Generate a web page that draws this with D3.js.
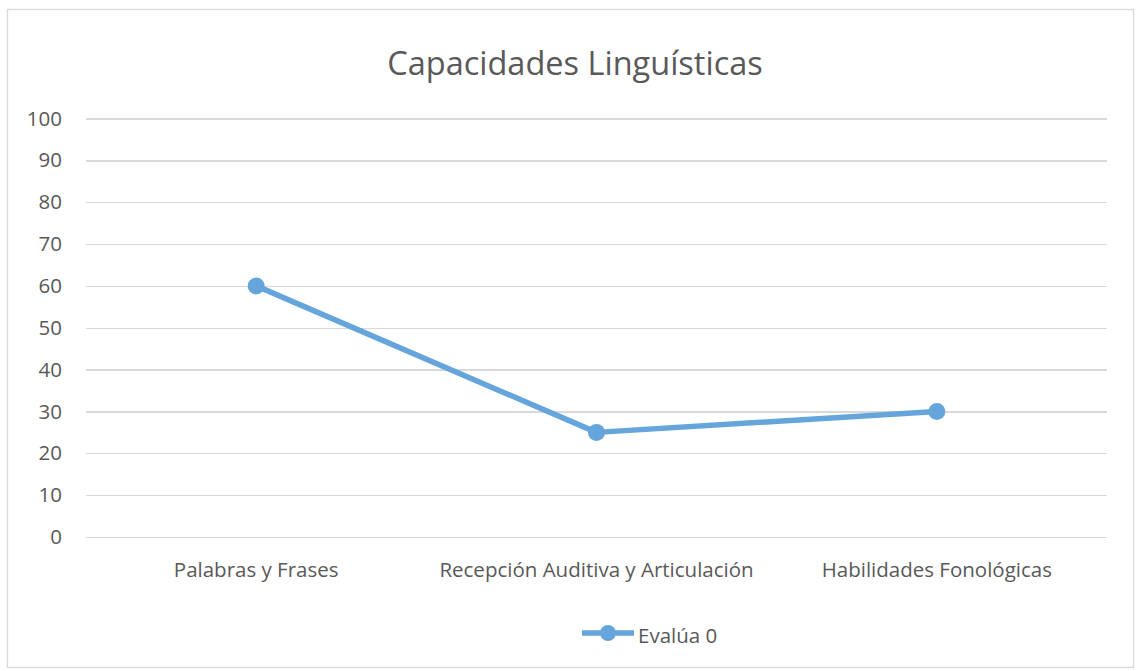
<!doctype html>
<html lang="es">
<head>
<meta charset="utf-8">
<title>Capacidades Linguísticas</title>
<style>
  body { margin: 0; background: #fff; }
  #chart text { font-family: "Open Sans", Lato, sans-serif; fill: #595959; }
  .grid line { stroke: #d9d9d9; stroke-width: 1.3; shape-rendering: crispEdges; }
  .grid path { display: none; }
  .y-axis path, .y-axis line, .x-axis path, .x-axis line { display: none; }
</style>
</head>
<body>
<div id="chart"></div>
<script src="https://d3js.org/d3.v7.min.js"></script>
<script>
  var categories = ['Palabras y Frases', 'Recepción Auditiva y Articulación', 'Habilidades Fonológicas'];
  var values = [60, 25, 30];
  var seriesName = 'Evalúa 0';
  var yTicks = [0, 10, 20, 30, 40, 50, 60, 70, 80, 90, 100];

  var chartWidth = 1142, chartHeight = 671;
  var padLeft = 86, padRight = 1107, padTop = 118.5, padBottom = 537;
  var lineColor = '#65a5dc';

  var svg = d3.select('#chart').append('svg')
    .attr('width', chartWidth)
    .attr('height', chartHeight);

  svg.append('rect')
    .attr('x', 7.5).attr('y', 9.5)
    .attr('width', 1126).attr('height', 658)
    .attr('fill', '#fff')
    .attr('stroke', '#d9d9d9')
    .attr('stroke-width', 1.3);

  var xscale = d3.scaleBand().domain(categories).range([padLeft, padRight]);
  var yscale = d3.scaleLinear().domain([0, 100]).range([padBottom, padTop]);

  // gridlines
  svg.append('g')
    .attr('class', 'grid')
    .attr('transform', 'translate(' + padLeft + ',0)')
    .call(d3.axisLeft(yscale).tickValues(yTicks).tickSize(-(padRight - padLeft)).tickFormat(''));

  // y axis labels
  svg.append('g')
    .attr('class', 'y-axis')
    .attr('transform', 'translate(' + padLeft + ',0)')
    .call(d3.axisLeft(yscale).tickValues(yTicks).tickSize(0).tickPadding(24))
    .selectAll('text')
    .style('font-size', '20.5px');

  // x axis labels
  svg.append('g')
    .attr('class', 'x-axis')
    .attr('transform', 'translate(0,' + padBottom + ')')
    .call(d3.axisBottom(xscale).tickSize(0).tickPadding(25))
    .selectAll('text')
    .style('font-size', '20.5px');

  svg.append('text')
    .attr('x', 575).attr('y', 75)
    .attr('text-anchor', 'middle')
    .style('font-size', '32.5px')
    .text('Capacidades Linguísticas');

  var line = d3.line()
    .x(function(d, i){ return xscale(categories[i]) + xscale.bandwidth() / 2; })
    .y(function(d){ return yscale(d); });

  svg.append('path')
    .datum(values)
    .attr('d', line)
    .attr('fill', 'none')
    .attr('stroke', lineColor)
    .attr('stroke-width', 5.5)
    .attr('stroke-linejoin', 'round');

  svg.selectAll('circle.pt')
    .data(values)
    .enter()
    .append('circle')
    .attr('class', 'pt')
    .attr('cx', function(d, i){ return xscale(categories[i]) + xscale.bandwidth() / 2; })
    .attr('cy', function(d){ return yscale(d); })
    .attr('r', 8.5)
    .attr('fill', lineColor);

  // legend
  var lg = svg.append('g').attr('transform', 'translate(582,633)');
  lg.append('line')
    .attr('x1', 0).attr('x2', 52).attr('y1', 0).attr('y2', 0)
    .attr('stroke', lineColor).attr('stroke-width', 5.5);
  lg.append('circle').attr('cx', 26).attr('cy', 0).attr('r', 8).attr('fill', lineColor);
  lg.append('text')
    .attr('x', 56).attr('y', 10)
    .style('font-size', '20.5px')
    .text(seriesName);
</script>
</body>
</html>
